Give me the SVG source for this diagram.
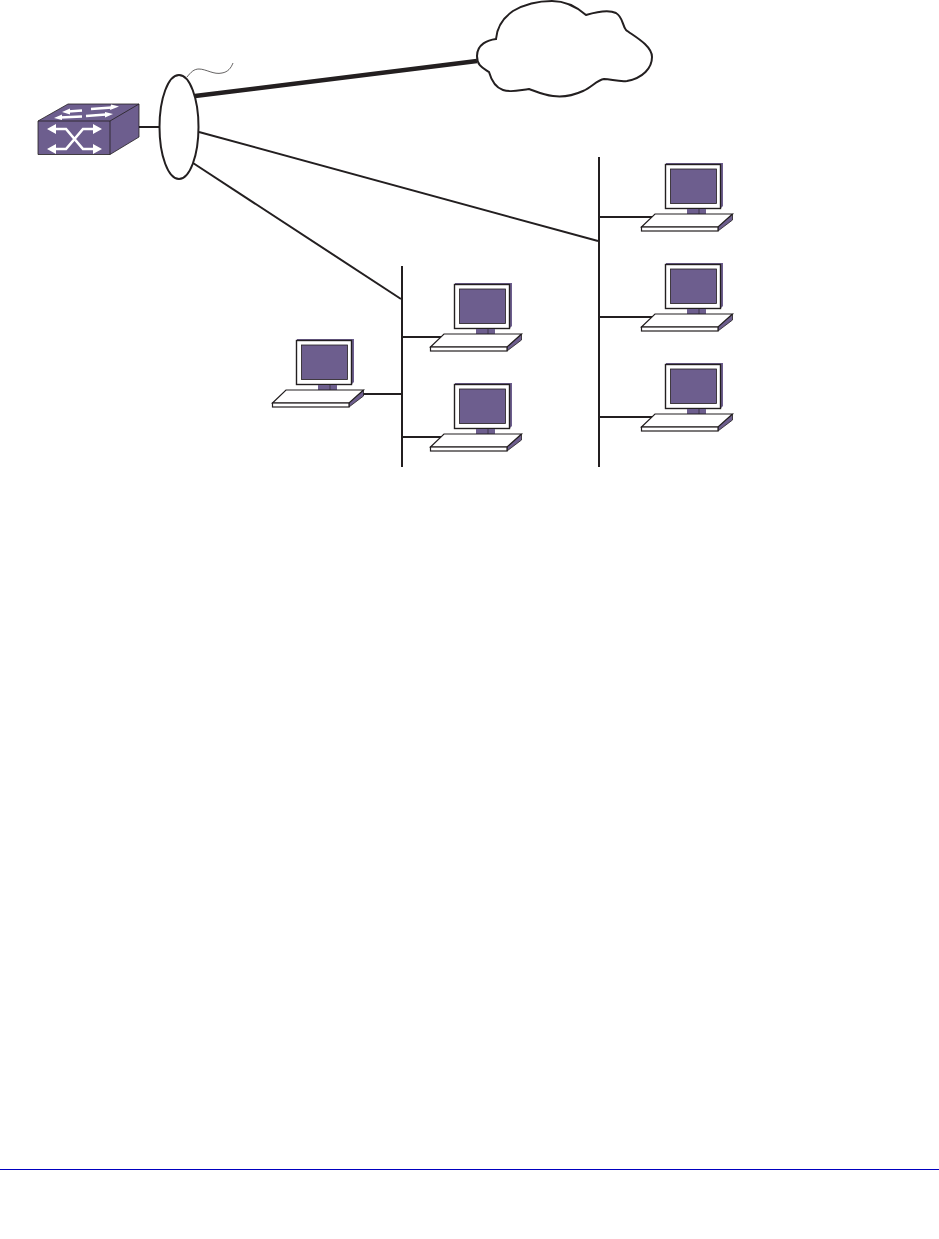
<svg xmlns="http://www.w3.org/2000/svg" width="939" height="1239" viewBox="0 0 939 1239">
<style>
.l{fill:none;stroke:#231f20;stroke-width:2}
.t{fill:none;stroke:#231f20;stroke-width:4.500}
.p{fill:#6d5e8e;stroke:#231f20;stroke-width:.8}
.w{fill:#fff;stroke:#231f20;stroke-width:1.2}
.a{fill:#fff;stroke:none}
.s{fill:none;stroke:#fff;stroke-width:2.600}
</style>
<defs>
<g id="pc">
<path d="M26 -1H83V42L81 44H79V0H26Z" fill="#6d5e8e"/>
<rect x="25.500" y="0.500" width="55" height="44" fill="#fff" stroke="#231f20" stroke-width="1.400"/>
<rect class="p" x="30.500" y="5" width="46" height="34.500" stroke-width="1"/>
<rect x="47" y="45" width="19" height="5.500" fill="#6d5e8e"/>
<path d="M59 45V50" stroke="#231f20" stroke-width=".6"/>
<path class="p" d="M78 67L92.500 56V50L78 63Z"/>
<path class="w" d="M1.500 63L15 50H92.500L78 63Z"/>
<rect class="w" x="1.500" y="63" width="76.500" height="4"/>
</g>
</defs>
<g id="connectors">
<path class="l" d="M138 127H160"/>
<path class="t" d="M195 96L477 61"/>
<path class="l" d="M199 132L598 241"/>
<path class="l" d="M193 163L401 299"/>
<path class="l" d="M402 266V467"/>
<path class="l" d="M599 157V467"/>
<path class="l" d="M402 337H441"/>
<path class="l" d="M402 437H441"/>
<path class="l" d="M362 394H402"/>
<path class="l" d="M599 217H652"/>
<path class="l" d="M599 317H652"/>
<path class="l" d="M599 417H652"/>
<path d="M187 77C191 72 194 69 199 69C206 69 214 75 222 73C228 72 231 68 233 63" fill="none" stroke="#231f20" stroke-width=".7"/>
</g>
<g id="switch">
<path class="p" d="M38 121L68 104H139V137L110 154.500H38Z"/>
<path d="M38 121H110V154.500M110 121L139 104" fill="none" stroke="#231f20" stroke-width=".8"/>
<path class="s" d="M54 129H66L83 149H95M54 149H66L83 129H95"/>
<path class="a" d="M47 129L56 124V134ZM47 149L56 144V154ZM102 129L93 124V134ZM102 149L93 144V154Z"/>
<path class="s" d="M68 111.500L82 110.500M91 109L112 107.500M60 117.500L82 116.500M86 116L106 114.500"/>
<path class="a" d="M62 112L70 108.500V114.500ZM119 106.500L111 104.500L110 110ZM54 118L62 114.500V120ZM113 114L105 112V117.500Z"/>
</g>
<g id="hub"><ellipse cx="179" cy="127" rx="19.500" ry="52" fill="#fff" stroke="#231f20" stroke-width="2"/></g>
<g id="cloud"><path d="M496 39C497 27 503 18 513 11C525 4 538 1 552 1C566 1 578 8 586 15C596 12 608 9 616 13C623 17 622 25 626 30C632 35 652 45 652 57C652 68 643 78 627 81C618 82 611 79 604 79C597 80 592 87 583 91C572 96 560 97 553 96C543 95 535 91 529 89C520 90 511 93 503 90C494 87 491 79 489 72C483 68 477 66 477 56C477 44 488 40 496 39Z" fill="#fff" stroke="#231f20" stroke-width="2"/></g>
<use id="pc1" href="#pc" x="640" y="164"/>
<use id="pc2" href="#pc" x="640" y="264"/>
<use id="pc3" href="#pc" x="640" y="364"/>
<use id="pc4" href="#pc" x="429" y="284"/>
<use id="pc5" href="#pc" x="429" y="384"/>
<use id="pc6" href="#pc" x="271" y="340"/>
<path id="rule" d="M0 1169.500H939" stroke="#0000c0" stroke-width="1"/>
</svg>
